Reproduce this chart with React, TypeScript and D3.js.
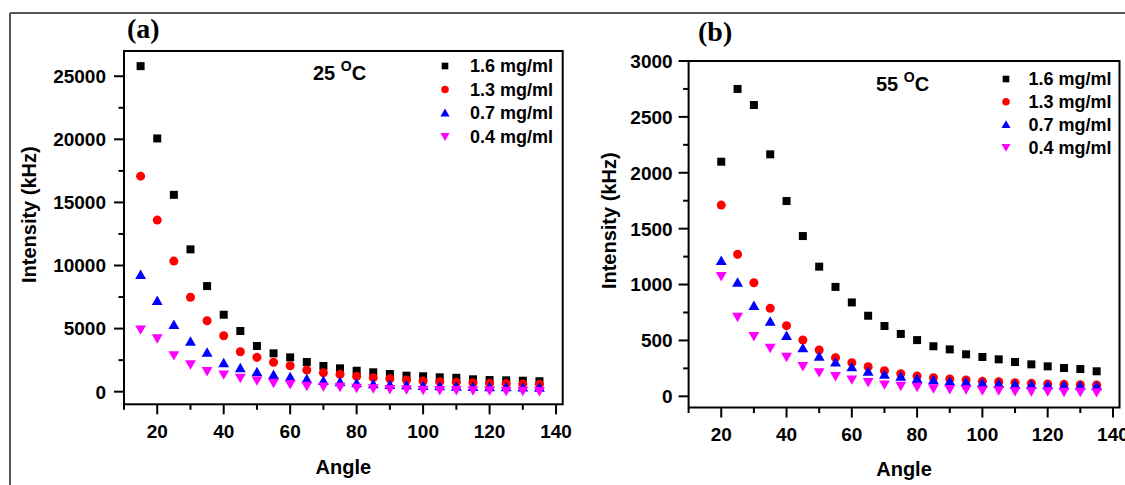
import React from "react";
import * as d3 from "d3";

const anglesA = [15, 20, 25, 30, 35, 40, 45, 50, 55, 60, 65, 70, 75, 80, 85, 90, 95, 100, 105, 110, 115, 120, 125, 130, 135];
const anglesB = [20, 25, 30, 35, 40, 45, 50, 55, 60, 65, 70, 75, 80, 85, 90, 95, 100, 105, 110, 115, 120, 125, 130, 135];

const a16 = [25800, 20070, 15600, 11280, 8370, 6100, 4810, 3620, 3040, 2720, 2350, 2035, 1850, 1660, 1535, 1400, 1270, 1220, 1140, 1100, 980, 925, 900, 870, 830];
const a13 = [17080, 13600, 10350, 7480, 5620, 4435, 3170, 2720, 2330, 2060, 1720, 1505, 1375, 1220, 1110, 1030, 925, 850, 790, 740, 710, 660, 635, 610, 585];
const a07 = [9240, 7180, 5280, 3960, 3090, 2250, 1850, 1535, 1320, 1140, 980, 850, 740, 660, 585, 530, 505, 450, 420, 395, 370, 345, 340, 320, 310];
const a04 = [4940, 4230, 2900, 2170, 1640, 1375, 1110, 900, 710, 610, 475, 425, 395, 315, 270, 215, 190, 160, 135, 130, 110, 110, 80, 80, 55];

const b16 = [2099, 2750, 2606, 2165, 1747, 1434, 1160, 979, 840, 721, 629, 558, 503, 448, 420, 376, 352, 331, 307, 286, 268, 253, 244, 224];
const b13 = [1711, 1270, 1016, 787, 632, 504, 414, 345, 301, 265, 229, 202, 182, 166, 155, 146, 134, 130, 122, 116, 110, 107, 104, 101];
const b07 = [1211, 1016, 808, 667, 540, 429, 354, 301, 259, 220, 193, 175, 155, 143, 131, 125, 116, 110, 104, 101, 98, 95, 92, 89];
const b04 = [1076, 712, 540, 435, 354, 271, 217, 182, 152, 128, 107, 95, 86, 72, 65, 63, 54, 54, 47, 45, 45, 41, 41, 38];

const seriesNames = ["1.6 mg/ml", "1.3 mg/ml", "0.7 mg/ml", "0.4 mg/ml"];
const seriesColors = ["#000000", "#ff0000", "#0000ff", "#ff00ff"];
const seriesShapes = ["square", "circle", "triangle", "invTriangle"];

const xMajorTicks = [20, 40, 60, 80, 100, 120, 140];
const xMinorTicks = [10, 30, 50, 70, 90, 110, 130];
const yMajorA = [0, 5000, 10000, 15000, 20000, 25000];
const yMinorA = [2500, 7500, 12500, 17500, 22500];
const yMajorB = [0, 500, 1000, 1500, 2000, 2500, 3000];
const yMinorB = [250, 750, 1250, 1750, 2250, 2750];

const FONT = "'Liberation Sans', Arial, sans-serif";

function markerPath(shape: string, size: number) {
  if (shape === "square") return d3.symbol(d3.symbolSquare, size)()!;
  if (shape === "circle") return d3.symbol(d3.symbolCircle, size)()!;
  return d3.symbol(d3.symbolTriangle, size * 0.8)()!;
}

function Marker({ shape, x, y, color, size }: any) {
  const rot = shape === "invTriangle" ? 180 : 0;
  const dy = shape === "triangle" ? 0.8 : shape === "invTriangle" ? -0.8 : 0;
  return (
    <path
      d={markerPath(shape, size)}
      transform={`translate(${x},${y + dy}) rotate(${rot})`}
      fill={color}
    />
  );
}

function Panel(props: any) {
  const { left, right, top, bottom, xDomain, yDomain, angles, series, yMajor, yMinor, label, labelX, labelY, temp, tempX, tempY, legX, legTextX, legY0, legDy, titleX, xTitleY, yLabelGap, yTitleX } = props;
  const x = d3.scaleLinear().domain(xDomain).range([left, right]);
  const y = d3.scaleLinear().domain(yDomain).range([bottom, top]);
  const cy = (top + bottom) / 2;
  return (
    <g>
      <text x={labelX} y={labelY} fontFamily="'Liberation Serif', 'Times New Roman', serif" fontWeight="bold" fontSize={28}>{label}</text>
      {series.map((vals: number[], si: number) =>
        vals.map((v, i) => (
          <Marker key={`${si}-${i}`} shape={seriesShapes[si]} x={x(angles[i])} y={y(v)} color={seriesColors[si]} size={64} />
        ))
      )}
      <rect x={left} y={top} width={right - left} height={bottom - top} fill="none" stroke="#000" strokeWidth={2} />
      {xMajorTicks.map((t) => (
        <g key={`xm${t}`}>
          <line x1={x(t)} x2={x(t)} y1={bottom} y2={bottom + 10} stroke="#000" strokeWidth={2} />
          <text x={x(t)} y={bottom + 33.5} textAnchor="middle" fontFamily={FONT} fontWeight="bold" fontSize={19}>{t}</text>
        </g>
      ))}
      {xMinorTicks.map((t) => (
        <line key={`xn${t}`} x1={x(t)} x2={x(t)} y1={bottom} y2={bottom + 5.5} stroke="#000" strokeWidth={2} />
      ))}
      {yMajor.map((t: number) => (
        <g key={`ym${t}`}>
          <line x1={left - 10} x2={left} y1={y(t)} y2={y(t)} stroke="#000" strokeWidth={2} />
          <text x={left - yLabelGap} y={y(t)} dy="0.36em" textAnchor="end" fontFamily={FONT} fontWeight="bold" fontSize={19}>{t}</text>
        </g>
      ))}
      {yMinor.map((t: number) => (
        <line key={`yn${t}`} x1={left - 5.5} x2={left} y1={y(t)} y2={y(t)} stroke="#000" strokeWidth={2} />
      ))}
      <text x={titleX} y={xTitleY} textAnchor="middle" fontFamily={FONT} fontWeight="bold" fontSize={20}>Angle</text>
      <text transform={`translate(${yTitleX},${cy + (props.yTitleShift || 0)}) rotate(-90)`} textAnchor="middle" dy="0.36em" fontFamily={FONT} fontWeight="bold" fontSize={20}>Intensity (kHz)</text>
      <text x={tempX} y={tempY} fontFamily={FONT} fontWeight="bold" fontSize={20}>
        {temp}
        <tspan dy={-9} fontSize={14}>O</tspan>
        <tspan dy={9}>C</tspan>
      </text>
      {seriesNames.map((n, i) => (
        <g key={`leg${i}`}>
          <Marker shape={seriesShapes[i]} x={legX} y={legY0 + i * legDy} color={seriesColors[i]} size={44} />
          <text x={legTextX} y={legY0 + i * legDy} dy="0.36em" fontFamily={FONT} fontWeight="bold" fontSize={18}>{n}</text>
        </g>
      ))}
    </g>
  );
}

export default function App() {
  return (
    <svg width={1125} height={485} style={{ position: "absolute", left: 0, top: 0, background: "#fff" }}>
      <rect x={0} y={0} width={1125} height={485} fill="#fff" />
      <line x1={10} x2={1125} y1={13} y2={13} stroke="#555" strokeWidth={2} />
      <line x1={10} x2={10} y1={13} y2={485} stroke="#555" strokeWidth={2} />
      <Panel
        left={124} right={562.7} top={51} bottom={404.3}
        xDomain={[10, 142]} yDomain={[-1000, 27000]}
        angles={anglesA} series={[a16, a13, a07, a04]}
        yMajor={yMajorA} yMinor={yMinorA}
        label="(a)" labelX={127} labelY={38}
        temp="25 " tempX={313} tempY={80}
        legX={445} legTextX={470} legY0={66} legDy={23.5}
        titleX={343.4} xTitleY={474} yLabelGap={18} yTitleX={28.5} yTitleShift={-13}
      />
      <Panel
        left={688.6} right={1119.5} top={61} bottom={407.5}
        xDomain={[10, 142]} yDomain={[-100, 3000]}
        angles={anglesB} series={[b16, b13, b07, b04]}
        yMajor={yMajorB} yMinor={yMinorB}
        label="(b)" labelX={698} labelY={41}
        temp="55 " tempX={876} tempY={90.5}
        legX={1006} legTextX={1028.5} legY0={79} legDy={22.8}
        titleX={904} xTitleY={476} yLabelGap={16} yTitleX={608.6} yTitleShift={-13.5}
      />
    </svg>
  );
}
